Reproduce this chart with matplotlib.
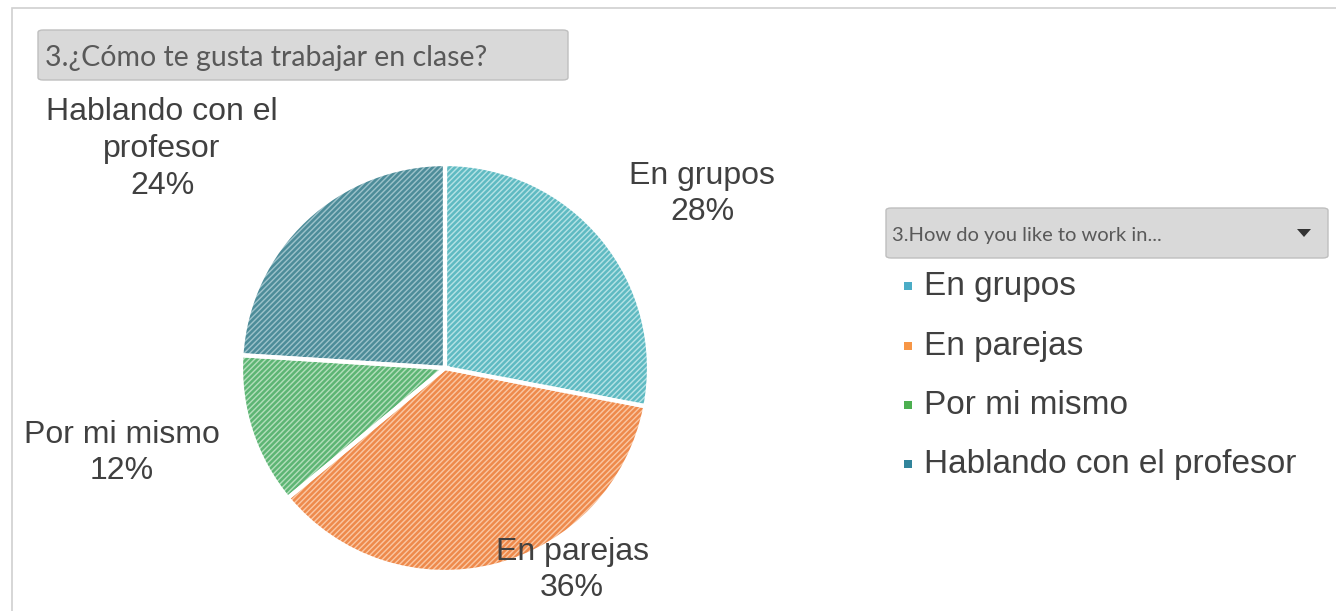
import numpy as np
import matplotlib
matplotlib.rcParams["font.family"] = ["Liberation Sans", "DejaVu Sans"]
matplotlib.rcParams["hatch.linewidth"] = 1.8
import matplotlib.pyplot as plt
from matplotlib.patches import FancyBboxPatch, Rectangle, Polygon

W, H = 1336, 611

categories = ["En grupos", "En parejas", "Por mi mismo", "Hablando con el profesor"]
shares = [28, 36, 12, 24]
slice_labels = ["En grupos\n28%", "En parejas\n36%", "Por mi mismo\n12%", "Hablando con el\nprofesor\n24%"]
title_text = "3.¿Cómo te gusta trabajar en clase?"
legend_title = "3.How do you like to work in..."

base_colors = ["#B5E2E5", "#FAC7A3", "#B3DEBB", "#9CC2CA"]
hatch_colors = ["#5FBAC2", "#EE8A4C", "#5DB574", "#4D8C99"]
marker_colors = ["#4BACC6", "#F79646", "#4CAF50", "#31849B"]
TEXT = "#404040"
BOX_FONT = ["Lato", "DejaVu Sans"]


def fx(px):
    return px / W


def fy(py):
    return 1 - py / H


fig = plt.figure(figsize=(W / 100, H / 100), dpi=100)

# cadre du graphique
fig.add_artist(Rectangle((fx(12), fy(640)), fx(1340), 632 / H, transform=fig.transFigure,
                         facecolor="none", edgecolor="#D0D0D0", lw=1.2))

# camembert
ax = fig.add_axes([fx(240), fy(573), fx(410), 410 / H])
wedges, _ = ax.pie(shares, startangle=90, counterclock=False, colors=base_colors,
                   wedgeprops=dict(linewidth=0))
for w, hc in zip(wedges, hatch_colors):
    w.set_hatch("//////")
    w.set_edgecolor(hc)
    w.set_linewidth(0)
ax.pie(shares, startangle=90, counterclock=False,
       wedgeprops=dict(facecolor="none", edgecolor="white", linewidth=3))
ax.set_xlim(-1.005, 1.005)
ax.set_ylim(-1.005, 1.005)
ax.set_aspect("equal")
ax.axis("off")

# étiquettes des parts
label_pos = [(702, 194), (572, 570), (122, 453), (162, 149)]
for txt, (x, y) in zip(slice_labels, label_pos):
    fig.text(fx(x), fy(y), txt, ha="center", va="center", fontsize=23, color=TEXT,
             linespacing=1.3)

# boîte de titre
fig.add_artist(FancyBboxPatch((fx(38), fy(80)), fx(530), 50 / H, transform=fig.transFigure,
                              boxstyle="round,pad=0,rounding_size=0.004",
                              facecolor="#D9D9D9", edgecolor="#BFBFBF", lw=1))
fig.text(fx(45), fy(58), title_text, ha="left", va="center", fontsize=20.5,
         color="#595959", family=BOX_FONT)

# légende
fig.add_artist(FancyBboxPatch((fx(886), fy(258)), fx(442), 50 / H, transform=fig.transFigure,
                              boxstyle="round,pad=0,rounding_size=0.004",
                              facecolor="#D9D9D9", edgecolor="#BFBFBF", lw=1))
fig.text(fx(892), fy(235), legend_title, ha="left", va="center", fontsize=14.5,
         color="#595959", family=BOX_FONT)
fig.add_artist(Polygon([(fx(1297), fy(229)), (fx(1311), fy(229)), (fx(1304), fy(237))],
                       closed=True, transform=fig.transFigure, facecolor="#333333", edgecolor="none"))

legend_y = [286, 346, 405, 464]
for cat, mc, y in zip(categories, marker_colors, legend_y):
    fig.add_artist(Rectangle((fx(904), fy(y + 4)), fx(8), 8 / H, transform=fig.transFigure,
                             facecolor=mc, edgecolor="none"))
    fig.text(fx(924), fy(y), cat, ha="left", va="center", fontsize=24, color=TEXT)

fig.savefig("out.png", dpi=100, facecolor="white")
